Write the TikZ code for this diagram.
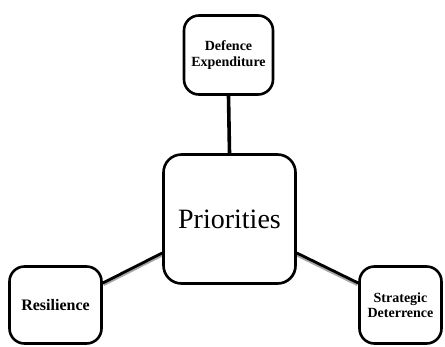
\documentclass[tikz,border=0pt]{standalone}
\usepackage{fontspec}
\setmainfont{Liberation Serif}
\usetikzlibrary{backgrounds,shadows}
\begin{document}
\begin{tikzpicture}[x=1pt,y=-1pt,
  box/.style={draw=black, line width=2.6pt, rounded corners=15pt, fill=white, align=center, inner sep=2pt},
  small/.style={box, font=\bfseries\fontsize{14}{15.5}\selectfont},
  link/.style={line width=2.8pt, black},
  shade/.style={line width=2.6pt, black!35}]
\useasboundingbox (0,0) rectangle (445,346);
\node[small, minimum width=89pt, minimum height=79pt] (top) at (228.5,55) {Defence\\Expenditure};
\node[box, rounded corners=18pt, minimum width=132pt, minimum height=129pt, font=\fontsize{28}{32}\selectfont,
  drop shadow={shadow xshift=1.2pt, shadow yshift=-1pt, fill=black!40, opacity=1}] (center) at (229.5,219) {Priorities};
\node[small, minimum width=92pt, minimum height=77pt, font=\bfseries\fontsize{16}{18}\selectfont] (left) at (55.5,305) {Resilience};
\node[small, minimum width=82pt, minimum height=77pt] (right) at (400.5,305) {Strategic\\Deterrence};
\begin{scope}[on background layer]
\draw[shade] ([xshift=0.8pt,yshift=-1.8pt]left.east |- 0,283) -- ([xshift=0.8pt,yshift=-1.8pt]center.west |- 0,253);
\draw[shade] ([xshift=-0.8pt,yshift=-1.8pt]center.east |- 0,253) -- ([xshift=-0.8pt,yshift=-1.8pt]right.west |- 0,283);
\draw[link] (left.east |- 0,283) -- (center.west |- 0,253);
\draw[link] (center.east |- 0,253) -- (right.west |- 0,283);
\draw[link, line width=3.6pt] (top.south) -- (center.north);
\end{scope}
\end{tikzpicture}
\end{document}
